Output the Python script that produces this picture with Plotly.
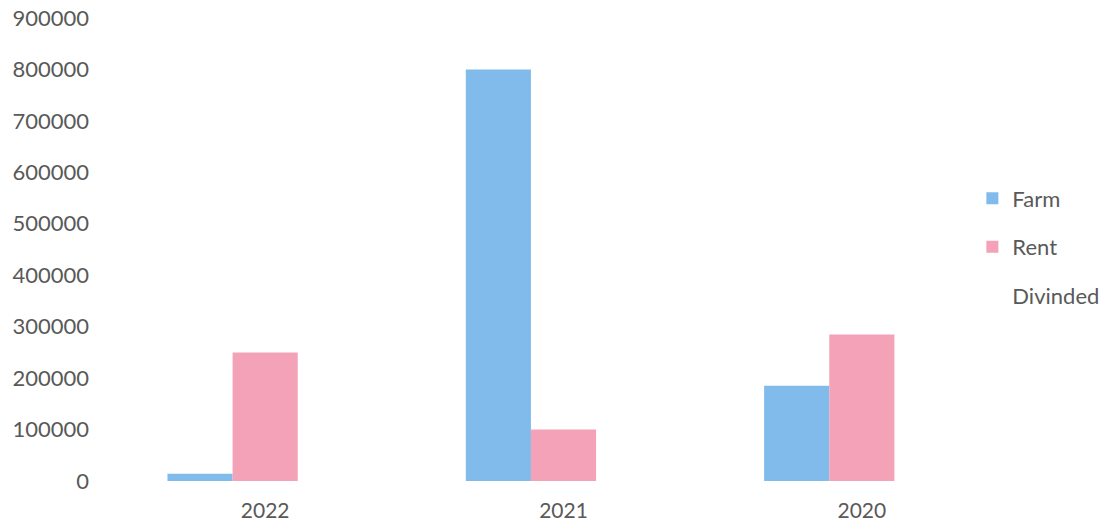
import plotly.graph_objects as go

# Yearly amounts per income source
years = ["2022", "2021", "2020"]
farm = [14000, 800000, 185000]
rent = [250000, 100000, 285000]
divinded = [None, None, None]

y_ticks = [0, 100000, 200000, 300000, 400000, 500000, 600000, 700000, 800000, 900000]

FONT = "Lato, 'Open Sans', sans-serif"
GREY = "#595959"

fig = go.Figure()
fig.add_trace(go.Bar(name="Farm", x=years, y=farm, marker_color="#80bbec",
                     marker_line_width=0, legendgroup="a"))
fig.add_trace(go.Bar(name="Rent", x=years, y=rent, marker_color="#f3a2b7",
                     marker_line_width=0, legendgroup="b"))
fig.add_trace(go.Bar(name="Divinded", x=years, y=divinded,
                     marker_color="rgba(0,0,0,0)", marker_line_width=0,
                     legendgroup="c"))

fig.update_layout(
    width=1110, height=525,
    margin=dict(l=116, r=99, t=18, b=44, autoexpand=False),
    paper_bgcolor="white", plot_bgcolor="white",
    barmode="group", bargap=0.345, bargroupgap=0,
    font=dict(family=FONT, color=GREY, size=22),
    showlegend=True,
    legend=dict(xref="container", yref="container",
                x=0.876, xanchor="left", y=0.662, yanchor="top",
                traceorder="grouped", tracegroupgap=17,
                font=dict(family=FONT, color=GREY, size=22),
                itemwidth=30, bgcolor="rgba(0,0,0,0)"),
    xaxis=dict(showgrid=False, showline=False, zeroline=False,
               ticks="", ticklabelstandoff=15, automargin=False,
               tickfont=dict(family=FONT, color=GREY, size=21)),
    yaxis=dict(range=[0, 900000], tickvals=y_ticks, tickformat="d",
               showgrid=False, showline=False, zeroline=False,
               ticks="", ticklabelstandoff=26, automargin=False,
               tickfont=dict(family=FONT, color=GREY, size=22)),
)

fig.write_html("out.html")
